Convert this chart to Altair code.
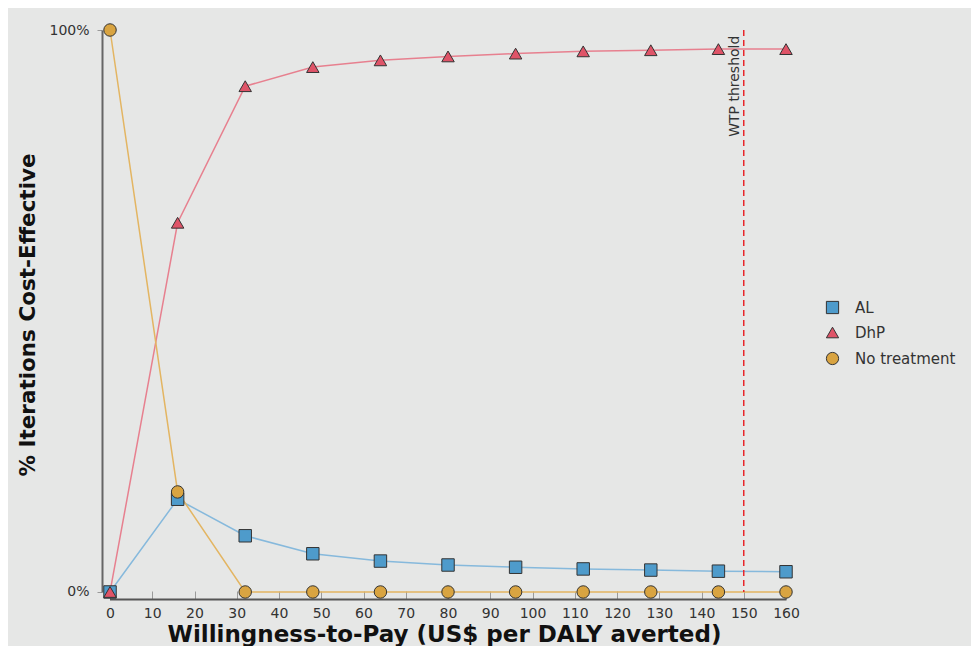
import altair as alt
import pandas as pd

# ---- data ----
wtp = [0, 16, 32, 48, 64, 80, 96, 112, 128, 144, 160]
al = [0.0, 0.165, 0.100, 0.068, 0.055, 0.048, 0.044, 0.041, 0.039, 0.037, 0.036]
dhp = [0.0, 0.657, 0.900, 0.934, 0.946, 0.953, 0.958, 0.962, 0.964, 0.966, 0.966]
no_tx = [1.0, 0.178, 0.0, 0.0, 0.0, 0.0, 0.0, 0.0, 0.0, 0.0, 0.0]
series = ["AL", "DhP", "No treatment"]
x_ticks = [0, 10, 20, 30, 40, 50, 60, 70, 80, 90, 100, 110, 120, 130, 140, 150, 160]
y_ticks = [0, 1]
threshold = [150]
threshold_label = ["WTP threshold"]

# ---- styles ----
fills = ["#4e9bcb", "#df5468", "#d9a441"]
line_colors = ["#86b9dc", "#e7808f", "#e3b562"]
shapes = ["square", "triangle-up", "circle"]
FONT = "DejaVu Sans"

rows = []
for name, vals in zip(series, [al, dhp, no_tx]):
    for w, v in zip(wtp, vals):
        rows.append({"wtp": w, "share": v, "strategy": name, "line_series": name})
df = pd.DataFrame(rows)

thr_df = pd.DataFrame({"wtp": threshold, "top": [1.0], "bottom": [0.0],
                       "pos": [0.99], "label": threshold_label})

x_enc = alt.X(
    "wtp:Q",
    scale=alt.Scale(domain=[-1.9, 160], nice=False, zero=False),
    axis=alt.Axis(
        values=x_ticks,
        title="Willingness-to-Pay (US$ per DALY averted)",
        tickSize=alt.ExprRef(expr="-8"),
        tickColor="#9a9a9a",
        tickWidth=1,
        domainColor="#555555",
        domainWidth=2,
        domainDash=[0, 7.5, 2000],
        labelFont=FONT,
        labelFontSize=14,
        labelColor="#333333",
        labelPadding=15,
        labelFlush=False,
        labelOverlap=False,
        titleFont=FONT,
        titleFontSize=23,
        titleFontWeight="bold",
        titleColor="#111111",
        titleBaseline="alphabetic",
        titleY=42.5,
        grid=False,
    ),
)
y_axis = alt.Axis(
    values=y_ticks,
    format=".0%",
    title="% Iterations Cost-Effective",
    tickSize=5,
    tickColor="#9a9a9a",
    domainColor="#666666",
    domainWidth=2,
    domainDash=[0, 7, 2000],
    labelFont=FONT,
    labelFontSize=14,
    labelColor="#333333",
    labelPadding=8,
    labelFlush=False,
    titleFont=FONT,
    titleFontSize=21.5,
    titleFontWeight="bold",
    titleColor="#111111",
    titlePadding=9,
    grid=False,
)
y_scale = alt.Scale(domain=[-0.0125, 1], nice=False, zero=False)

# stroke scale keeps a data-derived domain (alphabetical = series order),
# so its hidden legend does not merge with the point legend
lines = alt.Chart(df).mark_line(strokeWidth=1.5).encode(
    x=x_enc,
    y=alt.Y("share:Q", scale=y_scale, axis=y_axis),
    stroke=alt.Stroke("line_series:N", scale=alt.Scale(range=line_colors), legend=None),
    detail="line_series:N",
)

legend = alt.Legend(
    title=None,
    orient="none",
    legendX=723,
    legendY=270,
    padding=0,
    labelFont=FONT,
    labelFontSize=15,
    labelColor="#333333",
    labelOffset=15,
    rowPadding=9,
    symbolSize=150,
    symbolStrokeColor="#333333",
    symbolStrokeWidth=1,
)

points = alt.Chart(df).mark_point(filled=True, stroke="#333333", strokeWidth=1, opacity=1, size=155).encode(
    x=x_enc,
    y=alt.Y("share:Q", scale=y_scale, axis=y_axis),
    color=alt.Color("strategy:N", scale=alt.Scale(domain=series, range=fills), legend=legend),
    shape=alt.Shape("strategy:N", scale=alt.Scale(domain=series, range=shapes), legend=legend),
)

rule = alt.Chart(thr_df).mark_rule(color="#e8262b", strokeWidth=1.5, strokeDash=[6, 4]).encode(
    x=x_enc,
    y=alt.Y("top:Q", scale=y_scale, axis=y_axis),
    y2="bottom:Q",
)

text = alt.Chart(thr_df).mark_text(
    angle=270, align="right", baseline="bottom", font=FONT, fontSize=14, color="#333333", dy=-2
).encode(
    x=x_enc,
    y=alt.Y("pos:Q", scale=y_scale, axis=y_axis),
    text="label:N",
)

chart = alt.layer(lines, rule, text, points).properties(
    width=684,
    height=569,
    autosize=alt.AutoSizeParams(type="none"),
    padding={"left": 94, "top": 22, "right": 185, "bottom": 47},
    background="#e6e7e6",
).configure_view(stroke=None)

chart.save("out.html", embed_options={"renderer": "svg", "actions": False})
